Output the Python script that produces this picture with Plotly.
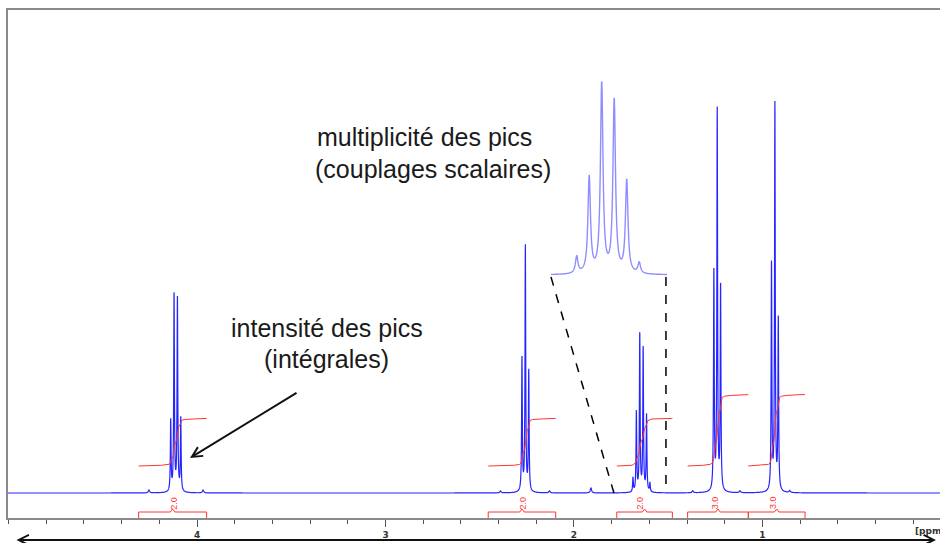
import numpy as np
import plotly.graph_objects as go

# ---------------- data ----------------
# 1H NMR multiplets (ppm centres, coupling in ppm, line heights left->right)
multiplet_ppm = [4.113, 2.258, 1.642, 1.240, 0.934]
coupling_ppm = [0.0178, 0.0180, 0.0180, 0.0178, 0.0180]
line_heights = [
    [71, 197, 193, 73],
    [133, 245, 120],
    [14, 80, 158, 144, 77, 9],
    [220, 380, 205],
    [226, 386, 171],
]
n_protons = [2, 2, 2, 3, 3]
integral_labels = ["2.0", "2.0", "2.0", "3.0", "3.0"]
integral_start = [4.310, 2.455, 1.773, 1.397, 1.075]
integral_end = [3.949, 2.097, 1.478, 1.075, 0.774]
# small impurity / satellite bumps
minor_ppm = [4.255, 3.968, 2.39, 2.13, 1.91, 1.37, 1.12, 0.855]
minor_height = [3, 3, 2, 2, 5, 2, 2, 2]
tick_values = [4, 3, 2, 1]
tick_labels = ["4", "3", "2", "1"]

# ---------------- build spectrum from line list ----------------
ppm = np.arange(5.05, -0.0001, -0.0004)
g = 0.0022
spec = np.zeros_like(ppm)
for c, J, hs in zip(multiplet_ppm, coupling_ppm, line_heights):
    n = len(hs)
    for i, h in enumerate(hs):
        x0 = c + J * ((n - 1) / 2 - i)
        spec += h * g**2 / (g**2 + (ppm - x0) ** 2)
gm = 0.004
for x0, h in zip(minor_ppm, minor_height):
    spec += h * gm**2 / (gm**2 + (ppm - x0) ** 2)

# plot geometry helpers (pixel -> paper)
W, H = 940, 543
ML, MR, MT, MB = 8, 0, 10, 25
PW, PH = W - ML - MR, H - MT - MB
def px(xp):
    return (xp - ML) / PW
def py(yp):
    return (H - MB - yp) / PH

BLUE = "#2525ff"
RED = "#ff3434"

fig = go.Figure()
fig.add_trace(go.Scatter(x=ppm, y=spec, mode="lines",
                         line=dict(color=BLUE, width=1.2, simplify=False),
                         hoverinfo="skip"))

# integral curves
per_h = 23.8
base = 27
for a, b, n in zip(integral_start, integral_end, n_protons):
    m = (ppm <= a) & (ppm >= b)
    seg = spec[m]
    cum = np.cumsum(seg)
    cum = cum / cum[-1]
    fig.add_trace(go.Scatter(x=ppm[m], y=base + n * per_h * cum, mode="lines",
                             line=dict(color=RED, width=1), hoverinfo="skip"))

# inset (zoom on the sextet)
inset_lo, inset_hi = 1.557, 1.724
mi = (ppm <= inset_hi + 0.002) & (ppm >= inset_lo - 0.002)
fig.add_trace(go.Scatter(x=ppm[mi], y=spec[mi], mode="lines", xaxis="x2", yaxis="y2",
                         line=dict(color="#8e8eff", width=1.4, simplify=False),
                         hoverinfo="skip"))

shapes = []
# integral brackets below the baseline
for a, b in zip(integral_start, integral_end):
    c = (a + b) / 2
    path = (f"M {a},-25 L {a},-19 L {c + 0.012},-19 L {c},-16 L {c - 0.012},-19 "
            f"L {b},-19 L {b},-25")
    shapes.append(dict(type="path", path=path, xref="x", yref="y",
                       line=dict(color=RED, width=1)))

# dashed zoom lines
shapes.append(dict(type="line", xref="x", yref="y", x0=2.122, y0=216, x1=1.788, y1=0,
                   line=dict(color="black", width=1.5, dash="dash")))
shapes.append(dict(type="line", xref="x", yref="y", x0=1.512, y0=216, x1=1.512, y1=0,
                   line=dict(color="black", width=1.5, dash="dash")))

annotations = []
for c, lab in zip(multiplet_ppm, integral_labels):
    annotations.append(dict(x=c + 0.01, y=-10, xref="x", yref="y", text=lab,
                            textangle=-90, showarrow=False,
                            xanchor="center", yanchor="middle",
                            font=dict(family="Arial, Liberation Sans", size=9, color=RED)))

txtfont = dict(family="Arial, Liberation Sans", size=25, color="#1a1a1a")
def label(xp, yp, text):
    return dict(x=px(xp), y=py(yp), xref="paper", yref="paper", text=text,
                xanchor="center", yanchor="middle", showarrow=False, font=txtfont)

annotations += [
    label(424.5, 137, "multiplicité des pics"),
    label(433, 169, "(couplages scalaires)"),
    label(326.5, 328, "intensité des pics"),
    label(326, 359, "(intégrales)"),
    # pointer arrow
    dict(x=px(190), y=py(458), xref="paper", yref="paper", ax=108, ay=-66,
         axref="pixel", ayref="pixel", text="", showarrow=True,
         arrowhead=5, arrowsize=1, arrowwidth=2, arrowcolor="#111", standoff=0),
    # double arrow along bottom
    dict(x=px(936), y=py(540), xref="paper", yref="paper", ax=-921, ay=0,
         axref="pixel", ayref="pixel", text="", showarrow=True, arrowside="end+start",
         arrowhead=5, startarrowhead=5, arrowsize=1, startarrowsize=1, arrowwidth=2,
         arrowcolor="#111", standoff=0, startstandoff=0),
    dict(x=px(913), y=py(531), xref="paper", yref="paper", text="[ppm]",
         xanchor="left", yanchor="middle",
         showarrow=False, font=dict(family="DejaVu Sans", size=9, color="#333", weight="bold")),
]

fig.update_layout(
    width=W, height=H,
    margin=dict(l=ML, r=MR, t=MT, b=MB),
    plot_bgcolor="white", paper_bgcolor="white",
    showlegend=False,
    xaxis=dict(range=[5.003, 0.058], tickmode="array", tickvals=tick_values,
               ticktext=tick_labels, ticks="outside", ticklen=7, tickcolor="#555",
               tickwidth=1, showline=True, linecolor="#8a8a8a", linewidth=1.5,
               mirror=True, showgrid=False, zeroline=False,
               tickfont=dict(family="DejaVu Sans", size=9, color="#333", weight="bold"),
               minor=dict(tickmode="linear", tick0=0, dtick=0.2, ticks="outside",
                          ticklen=4, tickcolor="#555", showgrid=False)),
    yaxis=dict(range=[-25, 483], showline=True, linecolor="#8a8a8a", linewidth=1.5,
               showticklabels=False, ticks="", showgrid=False, zeroline=False),
    xaxis2=dict(domain=[px(551), px(667)], anchor="y2", range=[inset_hi, inset_lo],
                visible=False),
    yaxis2=dict(domain=[py(277.4), py(277.4) + 202.4 / PH], anchor="x2",
                range=[-2, 166.3], visible=False),
    shapes=shapes,
    annotations=annotations,
)

fig.write_html("out.html", config={"displayModeBar": False},
               post_script="document.body.style.margin='0px';document.body.style.padding='0px';")
